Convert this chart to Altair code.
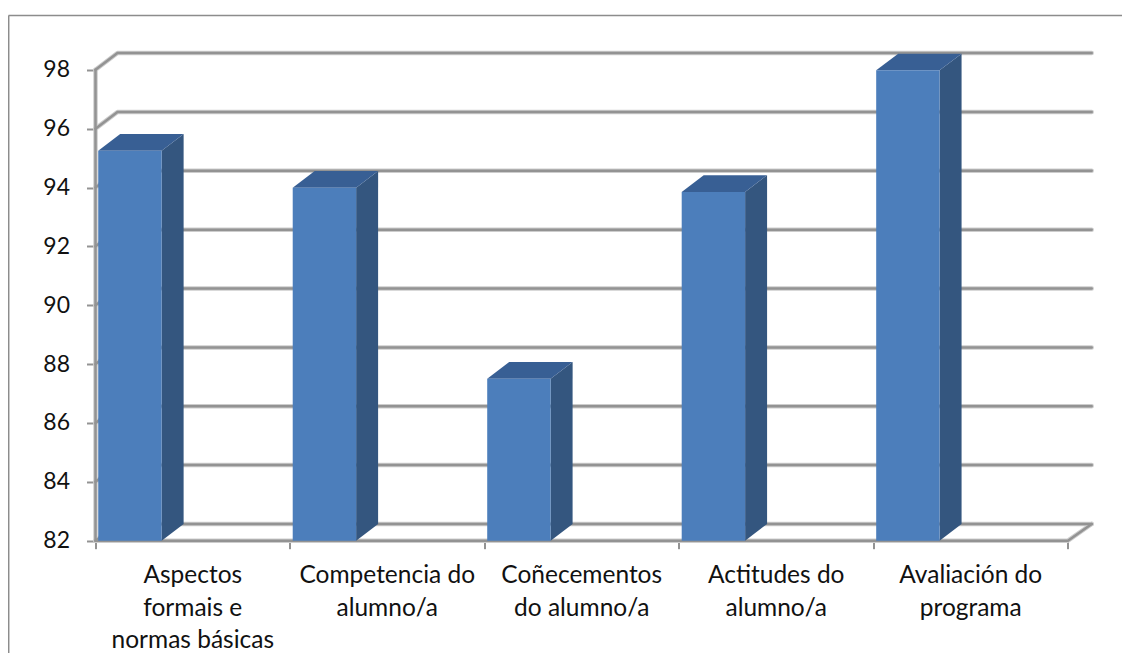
import altair as alt
import pandas as pd

# --- data ---
categories = [
    ["Aspectos", "formais e", "normas básicas"],
    ["Competencia do", "alumno/a"],
    ["Coñecementos", "do alumno/a"],
    ["Actitudes do", "alumno/a"],
    ["Avaliación do", "programa"],
]
values = [95.25, 93.99, 87.5, 93.85, 97.98]
y_ticks = [82, 84, 86, 88, 90, 92, 94, 96, 98]
x_ticks = [0, 1, 2, 3, 4, 5]

# 3-D look expressed in data units
DX = 0.113      # depth, categories
DY = 0.568      # depth, value units
BAR_L = 0.014
BAR_R = 0.340
X_END = 5 + 0.122
Y_BASE = 82
Y_TOP = 98.57
LABEL_Y0 = 80.80
LABEL_STEP = 1.105

GRID = "#939393"
HALO = "#CDCDCD"
FRONT = "#4C7EBB"
SIDE = "#34567F"
TOP = "#385F94"
FONT = "Lato"
FS = 24.5

xs = alt.Scale(domain=[0, X_END], range=[0, 996.2], nice=False, zero=False)
ys = alt.Scale(domain=[Y_BASE, Y_TOP], nice=False, zero=False)

# gridlines on back wall and their diagonal part on the side wall
grid_rows = []
for v in y_ticks:
    grid_rows += [
        dict(g=f"g{v}", i=0, x=0, y=v),
        dict(g=f"g{v}", i=1, x=DX, y=v + DY),
        dict(g=f"g{v}", i=2, x=X_END, y=v + DY),
    ]
grid_rows += [
    dict(g="floor", i=0, x=0, y=Y_BASE),
    dict(g="floor", i=1, x=5, y=Y_BASE),
    dict(g="floor", i=2, x=X_END, y=Y_BASE + DY),
    dict(g="wall", i=0, x=0, y=Y_BASE),
    dict(g="wall", i=1, x=0, y=y_ticks[-1]),
]
grid_df = pd.DataFrame(grid_rows)

front_df = pd.DataFrame(
    [dict(x=i + BAR_L, x2=i + BAR_R, y=v, y2=Y_BASE) for i, v in enumerate(values)]
)
side_rows, top_rows, label_rows = [], [], []
for i, v in enumerate(values):
    side_rows += [
        dict(b=i, x=i + BAR_R, y=v, y2=Y_BASE),
        dict(b=i, x=i + BAR_R + DX, y=v + DY, y2=Y_BASE + DY),
    ]
    top_rows += [
        dict(b=i, y=v, x=i + BAR_L, x2=i + BAR_R),
        dict(b=i, y=v + DY, x=i + BAR_L + DX, x2=i + BAR_R + DX),
    ]
    for n, line in enumerate(categories[i]):
        label_rows.append(dict(t=line, x=i + 0.5, y=LABEL_Y0 - n * LABEL_STEP))
side_df = pd.DataFrame(side_rows)
top_df = pd.DataFrame(top_rows)
label_df = pd.DataFrame(label_rows)

X_ = alt.X("x:Q", scale=xs, title=None)
Y_ = alt.Y("y:Q", scale=ys, title=None)

halo = (
    alt.Chart(grid_df)
    .mark_line(color=HALO, strokeWidth=4.5, strokeCap="round", strokeJoin="round")
    .encode(x=X_, y=Y_, detail="g:N", order="i:Q")
)
grid = (
    alt.Chart(grid_df)
    .mark_line(color=GRID, strokeWidth=2.5, strokeCap="round", strokeJoin="round")
    .encode(
        x=alt.X(
            "x:Q", scale=xs, title=None,
            axis=alt.Axis(values=x_ticks, labels=False, domain=False, grid=False,
                          ticks=True, tickSize=8, tickColor=GRID, tickWidth=2),
        ),
        y=alt.Y(
            "y:Q", scale=ys, title=None,
            axis=alt.Axis(values=y_ticks, domain=False, grid=False, ticks=True,
                          tickSize=9, tickColor=GRID, tickWidth=2, labelPadding=17,
                          labelFont=FONT, labelFontSize=23, labelColor="#111111"),
        ),
        detail="g:N",
        order="i:Q",
    )
)

front = alt.Chart(front_df).mark_rect(color=FRONT).encode(
    x=X_, x2="x2:Q", y=Y_, y2="y2:Q",
)
side = alt.Chart(side_df).mark_area(color=SIDE, opacity=1).encode(
    x=X_, y=Y_, y2="y2:Q", detail="b:N",
)
top = alt.Chart(top_df).mark_area(color=TOP, opacity=1, orient="horizontal").encode(
    y=Y_, x=X_, x2="x2:Q", detail="b:N",
)
labels = alt.Chart(label_df).mark_text(
    font=FONT, fontSize=FS, color="#111111", align="center", baseline="middle"
).encode(x=X_, y=Y_, text="t:N")

frame_top = alt.Chart(pd.DataFrame({"a": [0]})).mark_rule(color="#8C8C8C", strokeWidth=1.5).encode(
    x=alt.value(-87), x2=alt.value(1040), y=alt.value(-37.5)
)
frame_left = alt.Chart(pd.DataFrame({"a": [0]})).mark_rule(color="#8C8C8C", strokeWidth=1.5).encode(
    x=alt.value(-86.8), y=alt.value(-37.5), y2=alt.value(620)
)

chart = (
    alt.layer(halo, grid, frame_top, frame_left, side, top, front, labels)
    .properties(
        width=996.2,
        height=487.7,
        autosize="none",
        padding={"left": 87.5, "top": 45, "right": 30.3, "bottom": 112},
        background="white",
    )
    .configure_view(stroke=None)
)
chart.save("out.html", embed_options={"renderer": "svg", "actions": False})
